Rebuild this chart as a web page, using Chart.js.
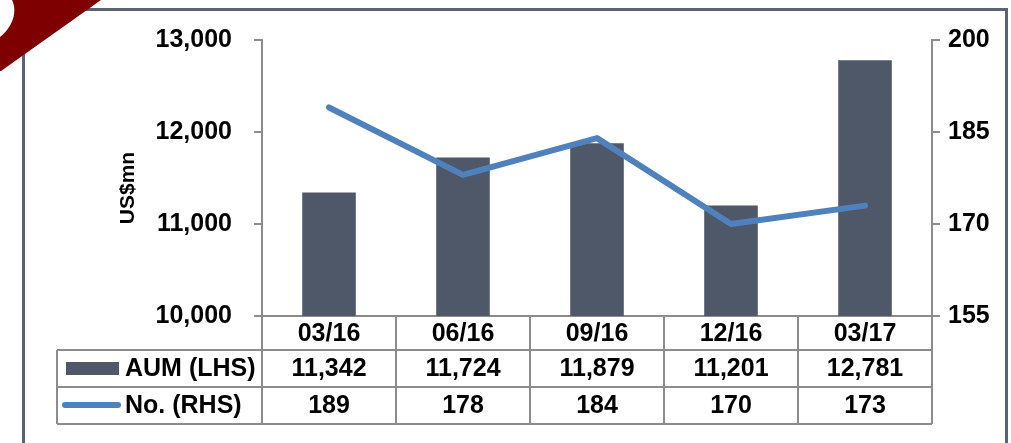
<!DOCTYPE html>
<html>
<head>
<meta charset="utf-8">
<script src="https://cdn.jsdelivr.net/npm/chart.js@4"></script>
<style>
html,body{margin:0;padding:0;background:#fff;}
#wrap{width:1011px;height:443px;}
</style>
</head>
<body>
<div id="wrap"><canvas id="c" width="1011" height="443"></canvas></div>
<script>
const categories = ['03/16', '06/16', '09/16', '12/16', '03/17'];
const aumValues = [11342, 11724, 11879, 11201, 12781];
const countValues = [189, 178, 184, 170, 173];
const aumLabels = ['11,342', '11,724', '11,879', '11,201', '12,781'];
const countLabels = ['189', '178', '184', '170', '173'];
const seriesNames = ['AUM (LHS)', 'No. (RHS)'];
const axisTitle = 'US$mn';

const BAR_COLOR = '#4f5869';
const LINE_COLOR = '#4f81bd';
const GRID_COLOR = '#8c8c8c';
const FONT = '"Liberation Sans", Arial, sans-serif';

const decorPlugin = {
  id: 'decor',
  beforeDraw(chart) {
    const ctx = chart.ctx;
    ctx.save();
    ctx.fillStyle = '#fff';
    ctx.fillRect(0, 0, chart.width, chart.height);
    ctx.strokeStyle = '#5b6373';
    ctx.lineWidth = 3;
    ctx.strokeRect(23.5, 9.5, 983, 460);
    ctx.restore();
  },
  afterDraw(chart) {
    const ctx = chart.ctx;
    const x = chart.scales.x;
    const area = chart.chartArea;
    const n = categories.length;
    const half = (x.getPixelForValue(1) - x.getPixelForValue(0)) / 2;
    const rows = [area.bottom, 350, 387, 424];
    const tableLeft = 57;
    ctx.save();
    // table lines
    ctx.strokeStyle = GRID_COLOR;
    ctx.lineWidth = 2;
    ctx.beginPath();
    for (let i = 0; i <= n; i++) {
      const px = Math.round(i < n ? x.getPixelForValue(i) - half : x.getPixelForValue(n - 1) + half);
      ctx.moveTo(px, rows[0]);
      ctx.lineTo(px, rows[3]);
    }
    for (let r = 1; r < rows.length; r++) {
      ctx.moveTo(tableLeft, rows[r]);
      ctx.lineTo(area.right, rows[r]);
    }
    ctx.moveTo(tableLeft, rows[1]);
    ctx.lineTo(tableLeft, rows[3]);
    ctx.stroke();
    // table text
    ctx.fillStyle = '#000';
    ctx.font = 'bold 25px ' + FONT;
    ctx.textAlign = 'center';
    ctx.textBaseline = 'middle';
    for (let i = 0; i < n; i++) {
      const cx = x.getPixelForValue(i);
      ctx.fillText(categories[i], cx, (rows[0] + rows[1]) / 2 + 1);
      ctx.fillText(aumLabels[i], cx, (rows[1] + rows[2]) / 2 + 1);
      ctx.fillText(countLabels[i], cx, (rows[2] + rows[3]) / 2 + 1);
    }
    // legend keys
    ctx.textAlign = 'left';
    ctx.fillStyle = BAR_COLOR;
    ctx.fillRect(66, 362, 53, 13);
    ctx.fillStyle = '#000';
    ctx.fillText(seriesNames[0], 125, (rows[1] + rows[2]) / 2 + 1);
    ctx.strokeStyle = LINE_COLOR;
    ctx.lineWidth = 6;
    ctx.lineCap = 'round';
    ctx.beginPath();
    ctx.moveTo(65, 405);
    ctx.lineTo(118, 405);
    ctx.stroke();
    ctx.fillText(seriesNames[1], 125, (rows[2] + rows[3]) / 2 + 1);
    // axis title
    ctx.translate(128, 188);
    ctx.rotate(-Math.PI / 2);
    ctx.textAlign = 'center';
    ctx.font = 'bold 21px ' + FONT;
    ctx.fillText(axisTitle, 0, 0);
    ctx.restore();
    // red corner decoration
    ctx.save();
    ctx.fillStyle = '#7f0000';
    ctx.beginPath();
    ctx.moveTo(12, 0);
    ctx.lineTo(101, 0);
    ctx.lineTo(1, 71);
    ctx.lineTo(0, 71);
    ctx.lineTo(0, 37);
    ctx.bezierCurveTo(12, 28, 18, 12, 12, 0);
    ctx.closePath();
    ctx.fill();
    ctx.restore();
  }
};

new Chart(document.getElementById('c'), {
  type: 'bar',
  data: {
    labels: categories,
    datasets: [
      {
        type: 'line',
        label: seriesNames[1],
        data: countValues,
        yAxisID: 'y1',
        borderColor: LINE_COLOR,
        borderWidth: 6,
        borderCapStyle: 'round',
        borderJoinStyle: 'round',
        pointRadius: 0,
        tension: 0,
        order: 0
      },
      {
        type: 'bar',
        label: seriesNames[0],
        data: aumValues,
        yAxisID: 'y',
        backgroundColor: BAR_COLOR,
        categoryPercentage: 1,
        barPercentage: 0.4,
        order: 1
      }
    ]
  },
  options: {
    responsive: false,
    animation: false,
    devicePixelRatio: 1,
    layout: { padding: { top: 40, left: 0, right: 0, bottom: 0 } },
    plugins: { legend: { display: false }, tooltip: { enabled: false } },
    scales: {
      x: {
        offset: true,
        grid: { display: false, drawTicks: false },
        border: { display: true, color: GRID_COLOR, width: 2 },
        ticks: { display: false },
        afterFit(s) { s.height = 127; }
      },
      y: {
        position: 'left',
        min: 10000, max: 13000,
        ticks: {
          stepSize: 1000,
          padding: 22,
          color: '#000',
          font: { family: FONT, size: 25, weight: 'bold' },
          callback: v => v.toLocaleString('en-US')
        },
        grid: { drawOnChartArea: false, color: GRID_COLOR, lineWidth: 2, tickLength: 8 },
        border: { display: true, color: GRID_COLOR, width: 2 },
        afterFit(s) { s.width = 262; }
      },
      y1: {
        position: 'right',
        min: 155, max: 200,
        ticks: {
          stepSize: 15,
          padding: 8,
          color: '#000',
          font: { family: FONT, size: 25, weight: 'bold' }
        },
        grid: { drawOnChartArea: false, color: GRID_COLOR, lineWidth: 2, tickLength: 8 },
        border: { display: true, color: GRID_COLOR, width: 2 },
        afterFit(s) { s.width = 79; }
      }
    }
  },
  plugins: [decorPlugin]
});
</script>
</body>
</html>
